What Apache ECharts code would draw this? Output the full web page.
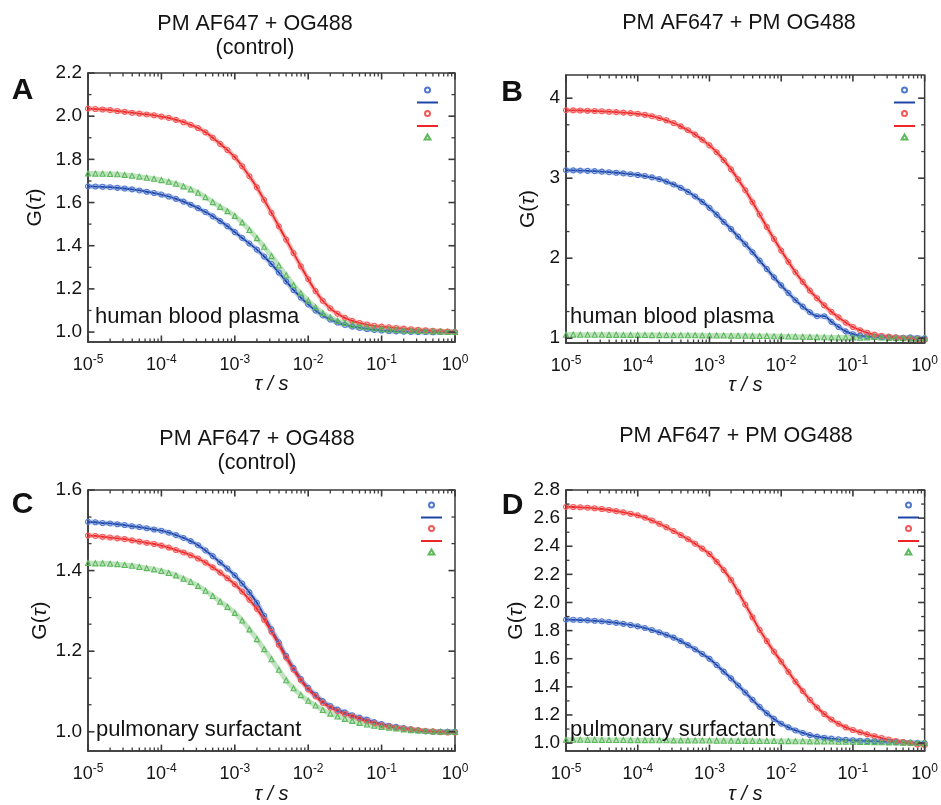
<!DOCTYPE html>
<html><head><meta charset="utf-8">
<script src="https://cdn.jsdelivr.net/npm/echarts@6/dist/echarts.min.js"></script>
<style>html,body{margin:0;padding:0;background:#fff}#c{width:941px;height:805px}</style>
</head><body><div id="c"></div>
<script>
const tau = [
 1e-5,1.26e-5,1.58e-5,2e-5,2.51e-5,3.16e-5,3.98e-5,5.01e-5,6.31e-5,7.94e-5,
 1e-4,1.26e-4,1.58e-4,2e-4,2.51e-4,3.16e-4,3.98e-4,5.01e-4,6.31e-4,7.94e-4,
 1e-3,1.26e-3,1.58e-3,2e-3,2.51e-3,3.16e-3,3.98e-3,5.01e-3,6.31e-3,7.94e-3,
 1e-2,1.26e-2,1.58e-2,2e-2,2.51e-2,3.16e-2,3.98e-2,5.01e-2,6.31e-2,7.94e-2,
 1e-1,0.126,0.158,0.2,0.251,0.316,0.398,0.501,0.631,0.794,1
];
// Panel A: human blood plasma, control
const aBlue = [1.675,1.674,1.673,1.671,1.668,1.665,1.661,1.656,1.650,1.644,1.637,1.628,1.617,1.604,1.590,1.574,1.556,1.536,1.514,1.490,1.463,1.436,1.410,1.382,1.350,1.315,1.276,1.235,1.195,1.160,1.128,1.100,1.077,1.058,1.044,1.033,1.025,1.019,1.014,1.010,1.007,1.005,1.003,1.002,1.001,1.000,1.000,0.999,1.000,1.000,1.000];
const aRed = [2.035,2.033,2.031,2.028,2.024,2.020,2.016,2.012,2.008,2.004,1.998,1.992,1.983,1.972,1.960,1.945,1.925,1.900,1.872,1.843,1.810,1.768,1.722,1.670,1.612,1.552,1.490,1.428,1.366,1.305,1.245,1.190,1.145,1.110,1.085,1.066,1.052,1.042,1.035,1.029,1.025,1.022,1.019,1.016,1.013,1.010,1.008,1.006,1.004,1.002,1.000];
const aGreen = [1.735,1.734,1.733,1.732,1.731,1.728,1.724,1.720,1.715,1.710,1.704,1.696,1.687,1.675,1.661,1.645,1.625,1.602,1.580,1.560,1.538,1.508,1.473,1.435,1.395,1.352,1.308,1.263,1.218,1.180,1.145,1.115,1.088,1.068,1.052,1.042,1.034,1.027,1.022,1.018,1.015,1.012,1.010,1.008,1.006,1.005,1.004,1.003,1.002,1.001,1.000];
// Panel B: human blood plasma, PM + PM
const bBlue = [3.100,3.098,3.095,3.092,3.088,3.082,3.075,3.068,3.060,3.050,3.040,3.027,3.010,2.988,2.958,2.922,2.880,2.830,2.772,2.705,2.630,2.545,2.455,2.365,2.270,2.175,2.075,1.970,1.865,1.760,1.660,1.565,1.475,1.395,1.325,1.275,1.275,1.205,1.140,1.085,1.050,1.032,1.022,1.016,1.012,1.010,1.008,1.005,1.010,1.003,1.000];
const bRed = [3.850,3.848,3.846,3.843,3.840,3.836,3.831,3.826,3.820,3.813,3.805,3.792,3.775,3.752,3.724,3.690,3.648,3.600,3.545,3.480,3.410,3.325,3.225,3.110,2.985,2.850,2.700,2.545,2.390,2.240,2.095,1.955,1.825,1.705,1.595,1.500,1.410,1.330,1.260,1.195,1.140,1.100,1.068,1.045,1.030,1.020,1.010,1.000,0.995,0.985,0.980];
const bGreen = [1.045,1.045,1.044,1.044,1.043,1.043,1.042,1.042,1.041,1.041,1.040,1.040,1.039,1.039,1.038,1.038,1.037,1.036,1.036,1.035,1.034,1.034,1.033,1.032,1.031,1.030,1.029,1.028,1.027,1.025,1.024,1.022,1.020,1.018,1.016,1.014,1.012,1.010,1.008,1.008,1.008,1.006,1.010,1.015,1.008,1.004,1.002,1.000,0.998,0.997,0.996];
// Panel C: pulmonary surfactant, control
const cBlue = [1.521,1.520,1.518,1.517,1.515,1.513,1.510,1.508,1.505,1.502,1.499,1.494,1.488,1.481,1.473,1.463,1.450,1.436,1.420,1.405,1.388,1.368,1.346,1.320,1.288,1.254,1.222,1.188,1.158,1.131,1.109,1.092,1.076,1.064,1.055,1.048,1.041,1.035,1.030,1.024,1.019,1.015,1.012,1.009,1.006,1.003,1.001,1.000,1.000,1.000,1.000];
const cRed = [1.487,1.486,1.484,1.482,1.480,1.478,1.475,1.472,1.469,1.466,1.462,1.457,1.451,1.445,1.438,1.430,1.420,1.408,1.395,1.381,1.366,1.348,1.328,1.305,1.278,1.248,1.216,1.184,1.154,1.128,1.105,1.088,1.072,1.060,1.051,1.044,1.038,1.032,1.026,1.021,1.016,1.013,1.010,1.008,1.006,1.004,1.002,1.001,0.999,0.998,0.998];
const cGreen = [1.419,1.418,1.418,1.417,1.416,1.414,1.412,1.409,1.406,1.403,1.399,1.394,1.388,1.380,1.372,1.362,1.350,1.337,1.323,1.310,1.295,1.276,1.254,1.230,1.205,1.180,1.154,1.128,1.108,1.091,1.077,1.065,1.054,1.045,1.038,1.032,1.027,1.022,1.018,1.015,1.012,1.010,1.008,1.006,1.004,1.003,1.002,1.001,1.000,1.000,1.000];
// Panel D: pulmonary surfactant, PM + PM
const dBlue = [1.878,1.877,1.875,1.873,1.870,1.866,1.861,1.855,1.848,1.840,1.830,1.818,1.804,1.788,1.770,1.750,1.725,1.697,1.667,1.634,1.600,1.555,1.508,1.460,1.410,1.360,1.308,1.258,1.212,1.172,1.138,1.112,1.090,1.072,1.057,1.046,1.038,1.032,1.027,1.023,1.020,1.017,1.015,1.013,1.011,1.009,1.007,1.005,1.003,1.001,1.000];
const dRed = [2.680,2.679,2.677,2.674,2.670,2.665,2.658,2.650,2.641,2.631,2.620,2.603,2.583,2.560,2.535,2.508,2.480,2.450,2.418,2.383,2.345,2.290,2.230,2.160,2.075,1.985,1.895,1.805,1.725,1.650,1.580,1.507,1.437,1.370,1.308,1.253,1.207,1.168,1.137,1.112,1.093,1.077,1.062,1.049,1.036,1.025,1.015,1.008,1.000,0.990,0.985];
const dGreen = [1.024,1.024,1.024,1.023,1.023,1.023,1.022,1.022,1.022,1.021,1.021,1.021,1.020,1.020,1.020,1.019,1.019,1.019,1.018,1.018,1.018,1.017,1.017,1.017,1.016,1.016,1.016,1.015,1.015,1.015,1.014,1.014,1.013,1.013,1.012,1.012,1.011,1.011,1.010,1.010,1.009,1.008,1.008,1.007,1.006,1.005,1.004,1.003,1.002,1.001,1.000];

// tick values and labels
const xTickVals = [1e-5,1e-4,1e-3,1e-2,1e-1,1];
const xTickLabels = ['{b|10}{s|-5}','{b|10}{s|-4}','{b|10}{s|-3}','{b|10}{s|-2}','{b|10}{s|-1}','{b|10}{s|0}'];
const xMinorMantissa = [2,3,4,5,6,7,8,9];
const aYTicks = [1.0,1.2,1.4,1.6,1.8,2.0,2.2];
const aYMinor = [1.1,1.3,1.5,1.7,1.9,2.1];
const bYTicks = [1,2,3,4];
const bYMinor = [1.333,1.667,2.333,2.667,3.333,3.667];
const cYTicks = [1.0,1.2,1.4,1.6];
const cYMinor = [1.067,1.133,1.267,1.333,1.467,1.533];
const dYTicks = [1.0,1.2,1.4,1.6,1.8,2.0,2.2,2.4,2.6,2.8];
const dYMinor = [1.1,1.3,1.5,1.7,1.9,2.1,2.3,2.5,2.7];

const titles = ['PM AF647 + OG488\n(control)','PM AF647 + PM OG488','PM AF647 + OG488\n(control)','PM AF647 + PM OG488'];
const letters = ['A','B','C','D'];
const notes = ['human blood plasma','human blood plasma','pulmonary surfactant','pulmonary surfactant'];

const FONT = '"Liberation Sans", Arial, Helvetica, sans-serif';
const AX = '#3a3a3a', TXT = '#141414';
const COL = {blueData:'#4f78cc', blueFit:'#1d44a6', redData:'#f35a5a', redFit:'#ee2626', greenData:'#5cb85c'};

const xMinorVals = [];
xTickVals.slice(0,5).forEach(d => xMinorMantissa.forEach(m => xMinorVals.push(m*d)));

const layout = [
 {grid:{left:88,top:73,width:367,height:269}, yMin:0.954, yMax:2.2, yTicks:aYTicks, yMinor:aYMinor, digits:1, yGap:42, xGap:30,
  data:[aBlue,aRed,aGreen], title:[255,36.5], letter:[22.5,91], note:[95,317], legend:[417,86.5]},
 {grid:{left:566,top:75,width:366,height:268}, yMin:0.94, yMax:4.29, yTicks:bYTicks, yMinor:bYMinor, digits:0, yGap:27, xGap:29,
  data:[bBlue,bRed,bGreen], title:[739,23.5], letter:[512,92.5], note:[570,317], legend:[894,86.5]},
 {grid:{left:88,top:490,width:367,height:268}, yMin:0.952, yMax:1.6, yTicks:cYTicks, yMinor:cYMinor, digits:1, yGap:37, xGap:28,
  data:[cBlue,cRed,cGreen], title:[257,451], letter:[22.5,505], note:[96,730], legend:[421,501.5]},
 {grid:{left:566,top:490,width:367,height:268}, yMin:0.943, yMax:2.8, yTicks:dYTicks, yMinor:dYMinor, digits:1, yGap:39, xGap:29,
  data:[dBlue,dRed,dGreen], title:[736,436], letter:[512.5,506], note:[570,730], legend:[898,501.5]}
];

const grids=[], xAxes=[], yAxes=[], series=[], legends=[], graphics=[];
const pts = arr => tau.map((t,i)=>[t,arr[i]]);
const lineIcon = 'path://M0,0H21V2H0Z';
const triIcon = 'path://M5,0L10,8.66L0,8.66Z';

layout.forEach((p,i)=>{
  grids.push(Object.assign({containLabel:false, show:true, borderColor:AX, borderWidth:1.5, backgroundColor:'rgba(0,0,0,0)'}, p.grid));
  xAxes.push({type:'log', logBase:10, gridIndex:i, min:1e-5, max:1, position:'bottom', splitLine:{show:false}, minorTick:{show:false},
    axisLine:{show:true,onZero:false,lineStyle:{color:AX,width:1.5}},
    axisTick:{show:false},
    axisLabel:{show:true,customValues:xTickVals,margin:12,color:TXT,
      formatter:v=>{const k=xTickVals.findIndex(t=>Math.abs(Math.log10(t)-Math.log10(v))<1e-6);return k>=0?xTickLabels[k]:'';},
      rich:{b:{fontSize:18,fontFamily:FONT,color:TXT,lineHeight:20,verticalAlign:'bottom'},
            s:{fontSize:12,fontFamily:FONT,color:TXT,lineHeight:12,verticalAlign:'top'}}},
    name:'τ / s', nameLocation:'middle', nameGap:p.xGap,
    nameTextStyle:{fontSize:20,fontStyle:'italic',fontFamily:FONT,color:TXT}});
  yAxes.push({type:'value', gridIndex:i, min:p.yMin, max:p.yMax, position:'left', splitLine:{show:false}, minorTick:{show:false},
    axisLine:{show:true,onZero:false,lineStyle:{color:AX,width:1.5}},
    axisTick:{show:false},
    axisLabel:{show:true,customValues:p.yTicks,margin:6,fontSize:19,fontFamily:FONT,color:TXT,formatter:v=>Number(v).toFixed(p.digits)},
    name:'{n|G(}{t|τ}{n|)}', nameLocation:'middle', nameGap:p.yGap,
    nameTextStyle:{fontSize:21,fontFamily:FONT,color:TXT,rich:{n:{fontSize:21,fontFamily:FONT,color:TXT},t:{fontSize:21,fontFamily:FONT,fontStyle:'italic',color:TXT}}}});

  const L = letters[i];
  const common = {xAxisIndex:i, yAxisIndex:i, smooth:0.3, animation:false, emphasis:{disabled:true}, silent:true};
  const dataSeries = (name, arr, color, sym) => Object.assign({}, common, {name, type:'line', data:pts(arr),
    symbol:sym, symbolSize:5, showSymbol:true, showAllSymbol:true,
    itemStyle:{color:'rgba(255,255,255,0)', borderColor:color, borderWidth:1.1},
    lineStyle:{color:color, width:5, opacity:0.4}});
  const fitSeries = (name, arr, color) => Object.assign({}, common, {name, type:'line', data:pts(arr),
    symbol:'none', itemStyle:{color:color}, lineStyle:{color:color, width:1.8}});
  const [bl, rd, gr] = p.data;
  series.push(dataSeries(L+' blue data', bl, COL.blueData, 'circle'));
  series.push(fitSeries(L+' blue fit', bl, COL.blueFit));
  series.push(dataSeries(L+' red data', rd, COL.redData, 'circle'));
  series.push(fitSeries(L+' red fit', rd, COL.redFit));
  series.push(dataSeries(L+' green data', gr, COL.greenData, triIcon));

  // inward frame ticks on all four sides, placed through the axes' own scales
  const xTickData = xTickVals.map(v=>[v,p.yMin,1]).concat(xMinorVals.map(v=>[v,p.yMin,0]));
  series.push({type:'custom', name:L+' xticks', xAxisIndex:i, yAxisIndex:i, silent:true, animation:false, clip:false, z:5,
    encode:{x:0,y:1}, data:xTickData,
    renderItem:(params, api)=>{
      const v = api.value(0), major = api.value(2) === 1, len = major ? 6.5 : 3.5, lw = major ? 1.6 : 1.3;
      const b = api.coord([v, p.yMin]), t = api.coord([v, p.yMax]);
      return {type:'group', children:[
        {type:'line', shape:{x1:b[0],y1:b[1],x2:b[0],y2:b[1]-len}, style:{stroke:AX,lineWidth:lw,fill:null}},
        {type:'line', shape:{x1:t[0],y1:t[1],x2:t[0],y2:t[1]+len}, style:{stroke:AX,lineWidth:lw,fill:null}}]};
    }});
  const yTickData = p.yTicks.map(v=>[1e-5,v,1]).concat(p.yMinor.map(v=>[1e-5,v,0]));
  series.push({type:'custom', name:L+' yticks', xAxisIndex:i, yAxisIndex:i, silent:true, animation:false, clip:false, z:5,
    encode:{x:0,y:1}, data:yTickData,
    renderItem:(params, api)=>{
      const v = api.value(1), major = api.value(2) === 1, len = major ? 6.5 : 3.5, lw = major ? 1.6 : 1.3;
      const l = api.coord([1e-5, v]), r = api.coord([1, v]);
      return {type:'group', children:[
        {type:'line', shape:{x1:l[0],y1:l[1],x2:l[0]+len,y2:l[1]}, style:{stroke:AX,lineWidth:lw,fill:null}},
        {type:'line', shape:{x1:r[0],y1:r[1],x2:r[0]-len,y2:r[1]}, style:{stroke:AX,lineWidth:lw,fill:null}}]};
    }});

  legends.push({orient:'vertical', left:p.legend[0], top:p.legend[1], itemWidth:21, itemHeight:5, itemGap:6.5,
    selectedMode:false, formatter:()=>'', textStyle:{fontSize:1}, padding:0, symbolKeepAspect:true,
    data:[{name:L+' blue data',icon:'circle'},{name:L+' blue fit',icon:lineIcon},{name:L+' red data',icon:'circle'},
          {name:L+' red fit',icon:lineIcon},{name:L+' green data',icon:triIcon}]});

  graphics.push({type:'text', z:100, x:p.title[0], y:p.title[1], style:{text:titles[i], fill:TXT, fontSize:21.5, fontFamily:FONT,
    lineHeight:24, textAlign:'center', textVerticalAlign:'middle', align:'center', verticalAlign:'middle'}});
  graphics.push({type:'text', z:100, x:p.letter[0], y:p.letter[1], style:{text:L, fill:'#111', fontSize:30, fontWeight:'bold', fontFamily:FONT,
    textAlign:'center', textVerticalAlign:'middle', align:'center', verticalAlign:'middle'}});
  graphics.push({type:'text', z:100, x:p.note[0], y:p.note[1], style:{text:notes[i], fill:TXT, fontSize:22, fontFamily:FONT,
    textAlign:'left', textVerticalAlign:'middle', align:'left', verticalAlign:'middle'}});
});

const chart = echarts.init(document.getElementById('c'));
chart.setOption({backgroundColor:'#fff', animation:false, grid:grids, xAxis:xAxes, yAxis:yAxes, series, legend:legends, graphic:graphics});
</script></body></html>
